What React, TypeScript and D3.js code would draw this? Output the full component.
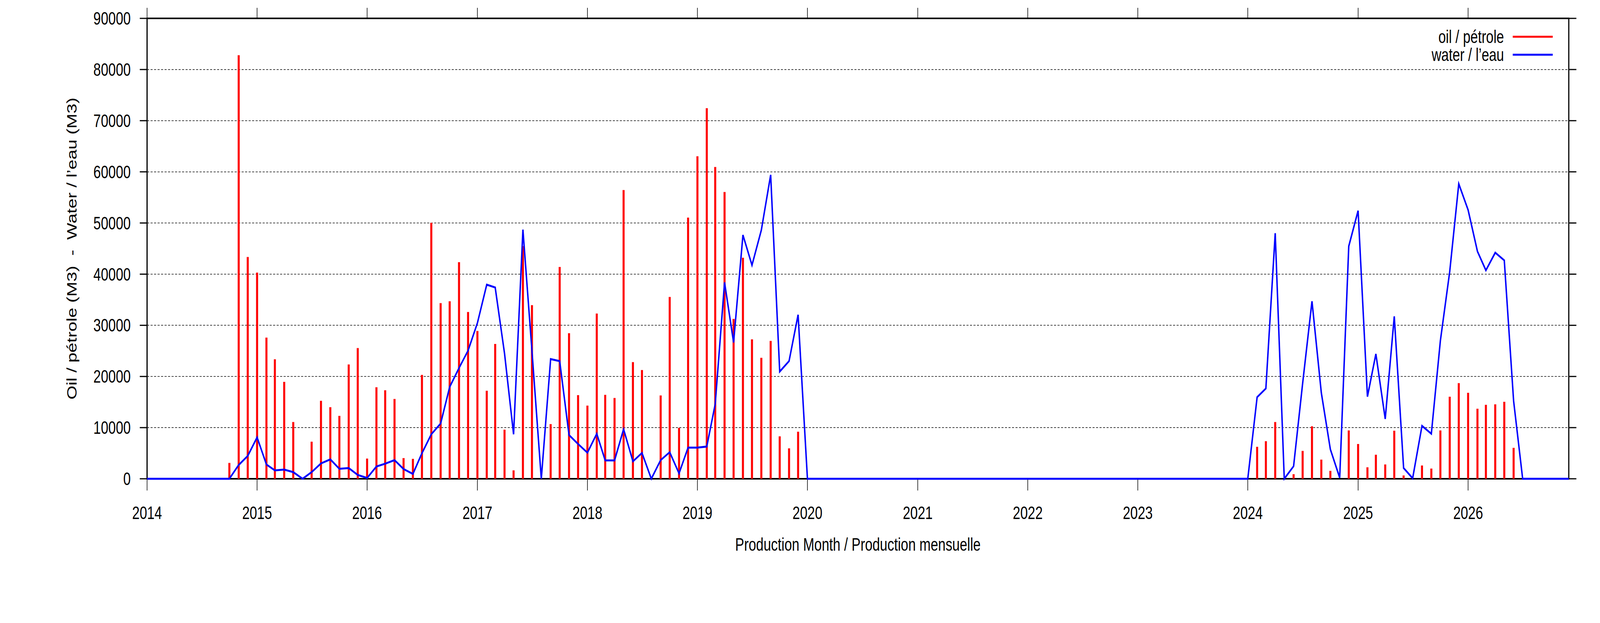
import React from "react";
import * as d3 from "d3";

// ---- data ----
const oilEarlyStart = "2014-10";
const oilEarly = [
  3100, 82800, 43350, 40300, 27600, 23350, 18950, 11100, 0, 7250, 15250, 14000,
  12300, 22350, 25550, 3950, 17900, 17300, 15600, 4050, 3900, 20300, 50050, 34350,
  34700, 42350, 32600, 28900, 17200, 26350, 9600, 1650, 45500, 33950, 0, 10700,
  41400, 28450, 16350, 14300, 32300, 16400, 15800, 56450, 22800, 21250, 0, 16300,
  35550, 9950, 51050, 63050, 72450, 60950, 56050, 31250, 43200, 27250, 23650, 26950,
  8300, 5950, 9200,
];
const waterEarlyStart = "2014-10";
const waterEarly = [
  0, 2700, 4470, 8100, 2800, 1650, 1800, 1300, 0, 1300, 3000, 3800,
  1950, 2100, 750, 150, 2400, 2950, 3650, 1900, 950, 5000, 8700, 10800,
  17950, 21650, 25050, 30450, 37950, 37400, 24500, 8700, 48700, 25000, 0, 23400,
  23000, 8550, 6800, 5100, 8800, 3600, 3600, 9700, 3400, 5050, 0, 3650,
  5200, 1050, 6100, 6100, 6300, 14600, 38400, 26650, 47650, 41750, 48600, 59400,
  20950, 23000, 32050, 0,
];
const oilLateStart = "2024-01";
const oilLate = [
  0, 6250, 7350, 11100, 0, 900, 5450, 10250, 3750, 1550, 0, 9450,
  6800, 2250, 4700, 2800, 9400, 650, 0, 2600, 2000, 9450, 16050, 18700,
  16800, 13700, 14450, 14550, 15050, 6050,
];
const waterLateStart = "2024-01";
const waterLate = [
  0, 15950, 17650, 48000, 0, 2450, 18650, 34700, 16800, 5750, 200, 45450,
  52400, 16050, 24400, 11700, 31750, 2100, 100, 10350, 8800, 27000, 40500, 57650,
  52550, 44450, 40750, 44200, 42700, 15200, 0,
];
const xStart = "2014-01";
const xEnd = "2026-12";
const yearTicks = [2014, 2015, 2016, 2017, 2018, 2019, 2020, 2021, 2022, 2023, 2024, 2025, 2026];
const yTicks = [0, 10000, 20000, 30000, 40000, 50000, 60000, 70000, 80000, 90000];
const yMax = 90000;
const legendLabels = ["oil / pétrole", "water / l’eau"];
const xTitle = "Production Month / Production mensuelle";
const yTitle = "Oil / pétrole (M3)  -  Water / l’eau (M3)";

// ---- helpers ----
const parseMonth = (s: string) => {
  const [y, m] = s.split("-").map(Number);
  return new Date(Date.UTC(y, m - 1, 1));
};
const seriesFrom = (start: string, vals: number[]) => {
  const s = parseMonth(start);
  return vals.map((v, i) => ({ date: d3.utcMonth.offset(s, i), value: v }));
};

const W = 5483;
const H = 1594;
const L = 504, R = 5376, T = 47, B = 1225;
const FONT = "'Liberation Sans', Arial, Helvetica, sans-serif";
const FS = 46;
const RED = "#ff0000";
const BLUE = "#0000ff";

export default function App() {
  const x = d3.scaleUtc().domain([parseMonth(xStart), parseMonth(xEnd)]).range([L, R]);
  const y = d3.scaleLinear().domain([0, yMax]).range([B, T]);

  const oil = [...seriesFrom(oilEarlyStart, oilEarly), ...seriesFrom(oilLateStart, oilLate)];

  // water line: zero wherever no value is listed, across the whole axis range
  const waterMap = new Map<number, number>();
  [...seriesFrom(waterEarlyStart, waterEarly), ...seriesFrom(waterLateStart, waterLate)].forEach((d) =>
    waterMap.set(d.date.getTime(), d.value)
  );
  const allMonths = d3.utcMonth.range(parseMonth(xStart), d3.utcMonth.offset(parseMonth(xEnd), 1));
  const water = allMonths.map((d) => ({ date: d, value: waterMap.get(d.getTime()) ?? 0 }));

  const line = d3
    .line<{ date: Date; value: number }>()
    .x((d) => x(d.date))
    .y((d) => y(d.value));

  const yearDate = (yr: number) => new Date(Date.UTC(yr, 0, 1));

  return (
    <svg
      viewBox={`0 0 ${W} ${H}`}
      preserveAspectRatio="none"
      style={{ position: "fixed", left: 0, top: 0, width: "100vw", height: "100vh", display: "block", background: "#fff" }}
      fontFamily={FONT}
    >
      <rect x={0} y={0} width={W} height={H} fill="#fff" />
      {/* grid */}
      {yTicks
        .filter((t) => t > 0 && t < yMax)
        .map((t) => (
          <line key={"g" + t} x1={L} x2={R} y1={y(t)} y2={y(t)} stroke="#000" strokeWidth={1.5} strokeDasharray="7,5" />
        ))}
      {/* border */}
      <rect x={L} y={T} width={R - L} height={B - T} fill="none" stroke="#000" strokeWidth={4} />
      {/* y ticks left & right */}
      {yTicks.map((t) => (
        <g key={"yt" + t}>
          <line x1={L - 25} x2={L} y1={y(t)} y2={y(t)} stroke="#000" strokeWidth={3} />
          <line x1={R} x2={R + 26} y1={y(t)} y2={y(t)} stroke="#000" strokeWidth={3} />
          <text x={448} y={y(t)} dy="0.35em" textAnchor="end" fontSize={FS}>
            {t}
          </text>
        </g>
      ))}
      {/* x ticks bottom & top */}
      {yearTicks.map((yr) => (
        <g key={"xt" + yr}>
          <line x1={x(yearDate(yr))} x2={x(yearDate(yr))} y1={B} y2={B + 30} stroke="#000" strokeWidth={2} />
          <line x1={x(yearDate(yr))} x2={x(yearDate(yr))} y1={T - 27} y2={T} stroke="#000" strokeWidth={2} />
          <text x={x(yearDate(yr))} y={1328} textAnchor="middle" fontSize={FS}>
            {yr}
          </text>
        </g>
      ))}
      {/* oil impulses */}
      {oil
        .filter((d) => d.value > 0)
        .map((d, i) => (
          <line
            key={"o" + i}
            x1={x(d.date)}
            x2={x(d.date)}
            y1={y(0)}
            y2={y(d.value)}
            stroke={RED}
            strokeWidth={7}
          />
        ))}
      {/* water line */}
      <path d={line(water) || ""} fill="none" stroke={BLUE} strokeWidth={5} strokeLinejoin="miter" />
      {/* titles */}
      <text x={(L + R) / 2} y={1409} textAnchor="middle" fontSize={FS}>
        {xTitle}
      </text>
      <text
        transform={`translate(262, ${(T + B) / 2}) rotate(-90)`}
        textAnchor="middle"
        fontSize={FS}
        xmlSpace="preserve"
        style={{ whiteSpace: "pre" }}
      >
        {yTitle}
      </text>
      {/* legend */}
      {legendLabels.map((lab, i) => (
        <g key={"lg" + i}>
          <text x={5154} y={110 + i * 46} textAnchor="end" fontSize={FS}>
            {lab}
          </text>
          <line
            x1={5184}
            x2={5321}
            y1={94 + i * 46}
            y2={94 + i * 46}
            stroke={i === 0 ? RED : BLUE}
            strokeWidth={5}
          />
        </g>
      ))}
    </svg>
  );
}
